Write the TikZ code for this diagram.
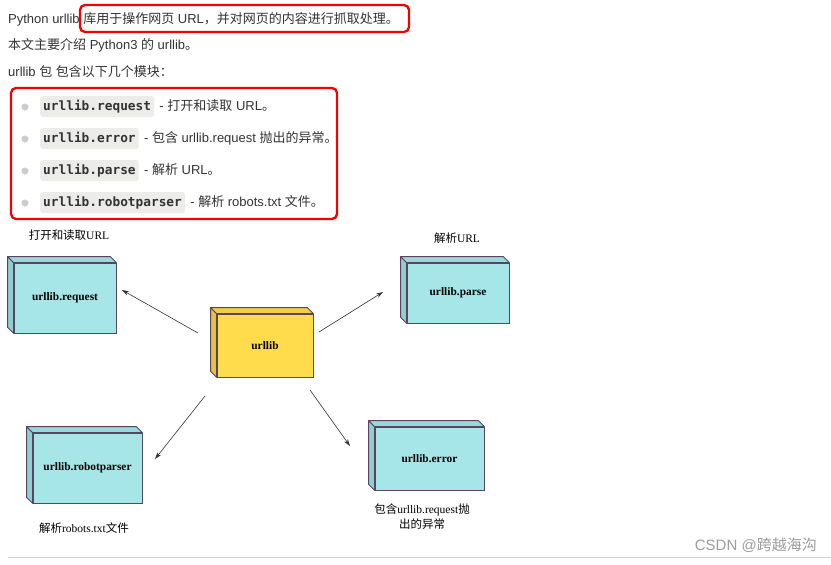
\documentclass[tikz,border=0pt]{standalone}
\usepackage{fontspec}
\setmainfont{Liberation Serif}
\newfontfamily\cjkfont{Noto Sans CJK SC}
\newfontfamily\sansfont{Liberation Sans}
\newfontfamily\codefont{DejaVu Sans Mono}
\usetikzlibrary{arrows.meta,calc}
\newcommand{\Z}[1]{{\cjkfont #1}}
\definecolor{txt}{HTML}{333333}
\definecolor{codebg}{HTML}{ECECEA}
\definecolor{bulletc}{HTML}{CCCCCC}
\definecolor{redc}{HTML}{F50000}
\definecolor{edgec}{HTML}{5A4560}
\definecolor{cyanF}{HTML}{A6E6E8}
\definecolor{cyanS}{HTML}{8ECFD3}
\definecolor{cyanT}{HTML}{98D9DC}
\definecolor{yelF}{HTML}{FFDC4C}
\definecolor{yelS}{HTML}{E6C23E}
\definecolor{yelT}{HTML}{F1CD48}
\definecolor{wmark}{HTML}{9C9C9C}
\definecolor{rulec}{HTML}{D4D4D4}
\tikzset{
  line/.style={anchor=west, inner sep=0pt, text=txt, text height=10pt, text depth=3pt,
    font=\sansfont\fontsize{13}{15}\selectfont},
  codebox/.style={anchor=west, fill=codebg, rounded corners=2.5pt, inner xsep=3pt, inner ysep=0pt,
    minimum height=21pt, text height=9.5pt, text depth=2.5pt, text=txt,
    font=\codefont\bfseries\fontsize{12.8}{14}\selectfont},
  bulletdot/.style={circle, fill=bulletc, inner sep=0pt, minimum size=7pt},
  redbox/.style={draw=redc, line width=2.3pt, rounded corners=5pt},
  cubeface/.style={draw=edgec, line width=0.8pt, inner sep=0pt, text=black,
    font=\fontsize{11.4}{13}\selectfont\bfseries},
  cubeedge/.style={draw=edgec, line width=0.8pt, line join=round},
  caption/.style={inner sep=0pt, text=black, align=center, font=\fontsize{11.5}{13.5}\selectfont},
  conn/.style={draw=black!80, line width=0.6pt, -{Stealth[length=7pt,width=4.5pt]}},
}
\newcommand{\mkcube}[9]{%
  \node[cubeface, fill=#6, minimum width=#4, minimum height=#5] (#1) at (#2,#3) {#9};
  \filldraw[cubeedge, fill=#7] (#1.north west) -- ++(-6,-6) -- ($(#1.south west)+(-6,-6)$) -- (#1.south west) -- cycle;
  \filldraw[cubeedge, fill=#8] (#1.north west) -- ++(-6,-6) -- ($(#1.north east)+(-6,-6)$) -- (#1.north east) -- cycle;
}
\begin{document}
\begin{tikzpicture}[x=1pt, y=-1pt]
\useasboundingbox (0,0) rectangle (831,565);
\fill[white] (0,0) rectangle (831,565);

% top text
\node[line] (l1) at (8,20) {Python urllib \Z{库用于操作网页} URL\Z{，并对网页的内容进行抓取处理。}};
\node[line] (l2) at (8,46) {\Z{本文主要介绍} Python3 \Z{的} urllib\Z{。}};
\node[line] (l3) at (8,72.5) {urllib \Z{包} \Z{包含以下几个模块：}};
\draw[redbox] (80,5) rectangle (409,32);

% list
\node[bulletdot] (b1) at (25,107) {};
\node[codebox] (c1) at (40,106.5) {urllib.request};
\node[line] (d1) at ([xshift=5pt]c1.east) {- \Z{打开和读取} URL\Z{。}};
\node[bulletdot] (b2) at (25,139) {};
\node[codebox] (c2) at (40,138.5) {urllib.error};
\node[line] (d2) at ([xshift=5pt]c2.east) {- \Z{包含} urllib.request \Z{抛出的异常。}};
\node[bulletdot] (b3) at (25,171) {};
\node[codebox] (c3) at (40,170.5) {urllib.parse};
\node[line] (d3) at ([xshift=5pt]c3.east) {- \Z{解析} URL\Z{。}};
\node[bulletdot] (b4) at (25,203) {};
\node[codebox] (c4) at (40,202.5) {urllib.robotparser};
\node[line] (d4) at ([xshift=5pt]c4.east) {- \Z{解析} robots.txt \Z{文件。}};
\draw[redbox] (11,88) rectangle (337,219);

% diagram boxes
\mkcube{req}{65}{298}{102}{70}{cyanF}{cyanS}{cyanT}{urllib.request}
\mkcube{core}{265}{345.5}{96}{63}{yelF}{yelS}{yelT}{urllib}
\mkcube{parse}{458}{293}{102}{60}{cyanF}{cyanS}{cyanT}{urllib.parse}
\mkcube{robot}{87.5}{468}{109}{70}{cyanF}{cyanS}{cyanT}{urllib.robotparser}
\mkcube{err}{429.5}{458.5}{109}{63}{cyanF}{cyanS}{cyanT}{urllib.error}

% captions
\node[caption] (capreq) at (69,235) {\Z{打开和读取}URL};
\node[caption] (capparse) at (457,238) {\Z{解析}URL};
\node[caption] (caprobot) at (84,528) {\Z{解析}robots.txt\Z{文件}};
\node[caption] (caperr) at (422,517) {\Z{包含}urllib.request\Z{抛}\\[1.5pt]\Z{出的异常}};

% connectors
\coordinate (s1) at (198,333); \coordinate (e1) at (122,290);
\coordinate (s2) at (319,332); \coordinate (e2) at (383,292);
\coordinate (s3) at (205,396); \coordinate (e3) at (155,459);
\coordinate (s4) at (310,390); \coordinate (e4) at (350,446);
\draw[conn] (s1) -- (e1);
\draw[conn] (s2) -- (e2);
\draw[conn] (s3) -- (e3);
\draw[conn] (s4) -- (e4);

% footer
\draw[rulec, line width=0.8pt] (8,557.5) -- (831,557.5);
\node[anchor=east, inner sep=0pt, text=wmark, font=\sansfont\fontsize{15}{17}\selectfont] (wm) at (817,545) {CSDN @\Z{跨越海沟}};
\end{tikzpicture}
\end{document}
